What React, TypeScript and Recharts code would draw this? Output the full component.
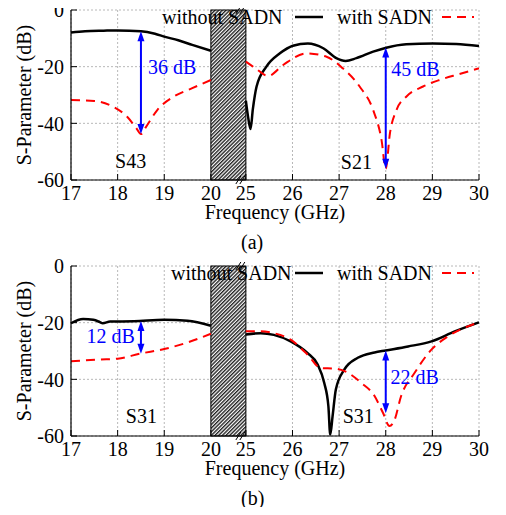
import React from "react";
import {
  LineChart,
  Line,
  XAxis,
  YAxis,
  CartesianGrid,
  ReferenceArea,
  ReferenceLine,
} from "recharts";

const FONT = "Liberation Serif";
const BLUE = "#0000ff";
const RED = "#ff0000";

// ---- panel (a): S43 (17-20 GHz) and S21 (25-30 GHz)
const aBlackLeftF = [17, 17.3, 17.7, 18, 18.5, 18.8, 19, 19.3, 19.6, 20];
const aBlackLeftV = [-7.9, -7.5, -7.3, -7.2, -7.5, -8.4, -9.4, -10.7, -12.3, -14.4];
const aRedLeftF = [17, 17.5, 17.9, 18.2, 18.4, 18.5, 18.6, 18.85, 19.2, 19.6, 20];
const aRedLeftV = [-31.8, -32.1, -34.1, -37.6, -41.7, -43.8, -41.5, -35.3, -30.6, -27.6, -24.7];
const aBlackRightF = [25, 25.05, 25.1, 25.15, 25.23, 25.44, 25.73, 26.01, 26.33, 26.66, 26.94, 27.14, 27.37, 27.73, 28.01, 28.44, 29.01, 29.51, 30];
const aBlackRightV = [-32, -38, -42, -35, -27, -20, -15.3, -12.6, -11.8, -13.5, -17, -18, -17, -14.7, -13.3, -12.1, -11.8, -12, -12.7];
const aRedRightF = [25, 25.2, 25.48, 25.8, 26.3, 26.73, 27.08, 27.44, 27.73, 27.91, 28, 28.09, 28.23, 28.44, 28.8, 29.15, 29.58, 30];
const aRedRightV = [-18.2, -20.5, -23.3, -19.4, -15.3, -16.5, -20.6, -27, -35.3, -45.9, -56, -43.5, -35.3, -30.6, -27, -24.7, -22.6, -20.6];

// ---- panel (b): S31
const bBlackLeftF = [17, 17.26, 17.48, 17.62, 17.68, 17.84, 18.35, 19, 19.5, 20];
const bBlackLeftV = [-20.2, -18.7, -19, -19.8, -20.2, -19.6, -19.5, -19, -19.3, -21.1];
const bRedLeftF = [17, 17.62, 18, 18.49, 19, 19.5, 20];
const bRedLeftV = [-33.6, -33, -32.7, -30.9, -29.3, -27, -23.9];
const bBlackRightF = [25, 25.32, 25.6, 25.96, 26.32, 26.54, 26.68, 26.77, 26.81, 26.86, 26.93, 27.11, 27.4, 27.76, 28, 28.48, 28.98, 29.48, 30];
const bBlackRightV = [-24.2, -23.7, -24.3, -26.6, -30.7, -34.8, -41.2, -49.5, -59.5, -53, -43.6, -36.6, -32.4, -30.5, -29.8, -28.4, -26.6, -23.1, -19.9];
const bRedRightF = [25, 25.32, 25.6, 25.96, 26.32, 26.61, 26.9, 27.19, 27.47, 27.76, 27.94, 28.08, 28.18, 28.33, 28.62, 28.98, 29.34, 30];
const bRedRightV = [-23, -23, -23.7, -26, -31.2, -36, -36.2, -37.7, -41.2, -45.9, -51.8, -56.5, -54.7, -45.9, -37.7, -29.5, -24.8, -19.9];

// ticks
const xMajor = [17, 18, 19, 20, 25, 26, 27, 28, 29, 30];
const xMinor = [17.5, 18.5, 19.5, 25.5, 26.5, 27.5, 28.5, 29.5];
const yMajor = [0, -20, -40, -60];
const yMinor = [0, -10, -20, -30, -40, -50, -60];

// broken axis: 17-20 then 25-30, gap drawn as hatch
const BREAK_LO = 20;
const BREAK_HI = 25;
const GAP = 0.75;
const toU = (f: number) => (f <= BREAK_LO ? f - 17 : f - BREAK_HI + (BREAK_LO - 17) + GAP);
const U_MAX = toU(30);
const pts = (fs: number[], vs: number[]) => fs.map((f, i) => ({ u: toU(f), v: vs[i] }));

const W = 506;
const H = 250;
const PLOT = { left: 71, top: 10, width: 408, height: 170 };
const X_AXIS_H = 40;
const MARGIN = {
  top: PLOT.top,
  right: W - PLOT.left - PLOT.width,
  bottom: H - PLOT.top - PLOT.height - X_AXIS_H,
  left: 0,
};
// same linear mapping the chart uses, for the text layer
const px = (f: number) => PLOT.left + (toU(f) / U_MAX) * PLOT.width;
const py = (v: number) => PLOT.top + (-v / 60) * PLOT.height;

// html text: baseline sits ~15.8px below the box top at 20px / 18px line height
const BASE = 15.8;
const shift: Record<string, string> = { start: "0", middle: "-50%", end: "-100%" };

const Txt = ({ x, y, anchor = "start", color = "#000", children }: any) => (
  <div
    style={{
      position: "absolute",
      left: x,
      top: y - BASE,
      transform: `translateX(${shift[anchor]})`,
      whiteSpace: "nowrap",
      color,
    }}
  >
    {children}
  </div>
);

const BottomTick = (p: any) => <line x1={p.x} x2={p.x} y1={p.y} y2={p.y - 6} stroke="#000" />;
const LeftTick = (p: any) => <line x1={p.x} x2={p.x + 6} y1={p.y} y2={p.y} stroke="#000" />;

// top axis ticks, mirrored onto the bottom edge
const TopTick = (p: any) => (
  <g stroke="#000">
    <line x1={p.x} x2={p.x} y1={p.y} y2={p.y + 5} />
    <line x1={p.x} x2={p.x} y1={p.y + PLOT.height} y2={p.y + PLOT.height - 4} />
  </g>
);

const RightTick = (p: any) => (
  <g stroke="#000">
    <line x1={p.x} x2={p.x - 5} y1={p.y} y2={p.y} />
    <line x1={p.x - PLOT.width} x2={p.x - PLOT.width + 4} y1={p.y} y2={p.y} />
  </g>
);

const Hatch = (p: any) => {
  const { x, y, width, height, fill } = p;
  const bx = x + width - 4;
  return (
    <g>
      <rect x={x} y={y} width={width} height={height} fill={fill} stroke="#000" strokeWidth={1} />
      {[y, y + height].map((yy) => (
        <g key={yy} stroke="#000" strokeWidth={1}>
          <line x1={bx - 6} y1={yy + 4} x2={bx - 1} y2={yy - 4} />
          <line x1={bx - 2} y1={yy + 4} x2={bx + 3} y2={yy - 4} />
        </g>
      ))}
    </g>
  );
};

const Arrow = (p: any) => {
  const { x1, y1, y2 } = p;
  const top = Math.min(y1, y2);
  const bot = Math.max(y1, y2);
  return (
    <g fill={BLUE}>
      <line x1={x1} x2={x1} y1={top + 6} y2={bot - 6} stroke={BLUE} strokeWidth={2} />
      <polygon points={`${x1},${top} ${x1 - 3.5},${top + 10} ${x1 + 3.5},${top + 10}`} />
      <polygon points={`${x1},${bot} ${x1 - 3.5},${bot - 10} ${x1 + 3.5},${bot - 10}`} />
    </g>
  );
};

type Note = { f: number; v: number; text: string; color: string; anchor: string };
type Span = { f: number; from: number; to: number };

// text layer: tick labels, axis titles and annotations
function TextLayer({ notes }: { notes: Note[] }) {
  const bottom = PLOT.top + PLOT.height;
  return (
    <div
      style={{
        position: "absolute",
        left: 0,
        top: 0,
        width: W,
        height: H,
        pointerEvents: "none",
        fontFamily: FONT,
        fontSize: 20,
        lineHeight: "18px",
      }}
    >
      {xMajor.map((f) => (
        <Txt key={f} x={px(f)} y={bottom + 19.5} anchor="middle">
          {f}
        </Txt>
      ))}
      {yMajor.map((v) => (
        <Txt key={v} x={PLOT.left - 7} y={py(v) + 7} anchor="end">
          {v}
        </Txt>
      ))}
      <Txt x={PLOT.left + PLOT.width / 2} y={bottom + 39} anchor="middle">
        Frequency (GHz)
      </Txt>
      <div
        style={{
          position: "absolute",
          left: 24,
          top: PLOT.top + PLOT.height / 2,
          transform: "translate(-50%, -50%) rotate(-90deg)",
          whiteSpace: "nowrap",
          lineHeight: "20px",
        }}
      >
        S-Parameter (dB)
      </div>
      {notes.map((n, i) => (
        <Txt key={i} x={px(n.f)} y={py(n.v)} anchor={n.anchor} color={n.color}>
          {n.text}
        </Txt>
      ))}
    </div>
  );
}

function Panel({
  top,
  curves,
  arrows,
  notes,
  legendLeft,
  caption,
  id,
}: {
  top: number;
  curves: { fs: number[]; vs: number[]; red: boolean }[];
  arrows: Span[];
  notes: Note[];
  legendLeft: number;
  caption: string;
  id: string;
}) {
  return (
    <div style={{ position: "absolute", left: 0, top, width: W, height: H + 20, fontFamily: FONT }}>
      <LineChart width={W} height={H} margin={MARGIN}>
        <defs>
          <pattern id={`hatch${id}`} width={2.6} height={2.6} patternUnits="userSpaceOnUse" patternTransform="rotate(45)">
            <rect width={2.6} height={2.6} fill="#fff" />
            <line x1={0.7} y1={0} x2={0.7} y2={2.6} stroke="#222" strokeWidth={1.4} />
          </pattern>
        </defs>
        <CartesianGrid stroke="#b8b8b8" strokeDasharray="2 2" />
        <XAxis
          dataKey="u"
          type="number"
          domain={[0, U_MAX]}
          ticks={xMajor.map(toU)}
          interval={0}
          height={X_AXIS_H}
          tickSize={0}
          tickMargin={0}
          tickLine={false}
          axisLine={{ stroke: "#000", strokeWidth: 1.2 }}
          tick={BottomTick}
        />
        <XAxis
          xAxisId="top"
          orientation="top"
          dataKey="u"
          type="number"
          domain={[0, U_MAX]}
          ticks={[...xMajor, ...xMinor].map(toU)}
          interval={0}
          height={0}
          tickSize={0}
          tickMargin={0}
          tickLine={false}
          axisLine={{ stroke: "#000", strokeWidth: 1.2 }}
          tick={TopTick}
        />
        <YAxis
          type="number"
          domain={[-60, 0]}
          ticks={yMajor}
          interval={0}
          width={PLOT.left}
          tickSize={0}
          tickMargin={0}
          tickLine={false}
          axisLine={{ stroke: "#000", strokeWidth: 1.2 }}
          tick={LeftTick}
        />
        <YAxis
          yAxisId="right"
          orientation="right"
          type="number"
          domain={[-60, 0]}
          ticks={yMinor}
          interval={0}
          width={0}
          tickSize={0}
          tickMargin={0}
          tickLine={false}
          axisLine={{ stroke: "#000", strokeWidth: 1.2 }}
          tick={RightTick}
        />
        {curves.map((c, i) => (
          <Line
            key={i}
            data={pts(c.fs, c.vs)}
            dataKey="v"
            type="monotone"
            stroke={c.red ? RED : "#000"}
            strokeWidth={c.red ? 2 : 2.5}
            strokeDasharray={c.red ? "9 6" : undefined}
            dot={false}
            activeDot={false}
            isAnimationActive={false}
          />
        ))}
        <ReferenceArea
          x1={toU(BREAK_LO)}
          x2={toU(BREAK_HI)}
          y1={-60}
          y2={0}
          ifOverflow="visible"
          fill={`url(#hatch${id})`}
          shape={(p: any) => <Hatch {...p} />}
        />
        {arrows.map((a, i) => (
          <ReferenceLine
            key={i}
            segment={[
              { x: toU(a.f), y: a.from },
              { x: toU(a.f), y: a.to },
            ]}
            shape={(p: any) => <Arrow {...p} />}
          />
        ))}
      </LineChart>
      <TextLayer notes={notes} />
      {/* legend drawn over the plot */}
      <div style={{ position: "absolute", top: 5, left: 0, width: W, height: 24, fontSize: 20, lineHeight: "24px" }}>
        <span style={{ position: "absolute", left: legendLeft, whiteSpace: "nowrap" }}>without SADN</span>
        <svg style={{ position: "absolute", left: 295, top: 0 }} width={30} height={24}>
          <line x1={0} x2={28} y1={12} y2={12} stroke="#000" strokeWidth={2.5} />
        </svg>
        <span style={{ position: "absolute", left: 337, whiteSpace: "nowrap" }}>with SADN</span>
        <svg style={{ position: "absolute", left: 442, top: 0 }} width={34} height={24}>
          <line x1={0} x2={32} y1={12} y2={12} stroke={RED} strokeWidth={2} strokeDasharray="9 6" />
        </svg>
      </div>
      <div style={{ position: "absolute", top: H - 20, left: 241, fontSize: 20, lineHeight: "24px" }}>{caption}</div>
    </div>
  );
}

export default function App() {
  return (
    <div style={{ position: "relative", width: W, height: 515, margin: -8, background: "#fff" }}>
      <Panel
        id="a"
        top={0}
        legendLeft={162}
        caption="(a)"
        curves={[
          { fs: aBlackLeftF, vs: aBlackLeftV, red: false },
          { fs: aRedLeftF, vs: aRedLeftV, red: true },
          { fs: aBlackRightF, vs: aBlackRightV, red: false },
          { fs: aRedRightF, vs: aRedRightV, red: true },
        ]}
        arrows={[
          { f: 18.5, from: -7.5, to: -43.8 },
          { f: 28, from: -13.2, to: -56 },
        ]}
        notes={[
          { f: 18.65, v: -22.6, text: "36 dB", color: BLUE, anchor: "start" },
          { f: 28.12, v: -23.3, text: "45 dB", color: BLUE, anchor: "start" },
          { f: 18.28, v: -55.6, text: "S43", color: "#000", anchor: "middle" },
          { f: 27.37, v: -55.9, text: "S21", color: "#000", anchor: "middle" },
        ]}
      />
      <Panel
        id="b"
        top={256}
        legendLeft={171}
        caption="(b)"
        curves={[
          { fs: bBlackLeftF, vs: bBlackLeftV, red: false },
          { fs: bRedLeftF, vs: bRedLeftV, red: true },
          { fs: bBlackRightF, vs: bBlackRightV, red: false },
          { fs: bRedRightF, vs: bRedRightV, red: true },
        ]}
        arrows={[
          { f: 18.5, from: -19.4, to: -31 },
          { f: 28, from: -29.8, to: -52 },
        ]}
        notes={[
          { f: 18.37, v: -27.2, text: "12 dB", color: BLUE, anchor: "end" },
          { f: 28.1, v: -41.5, text: "22 dB", color: BLUE, anchor: "start" },
          { f: 18.51, v: -55.5, text: "S31", color: "#000", anchor: "middle" },
          { f: 27.41, v: -55.5, text: "S31", color: "#000", anchor: "middle" },
        ]}
      />
    </div>
  );
}
